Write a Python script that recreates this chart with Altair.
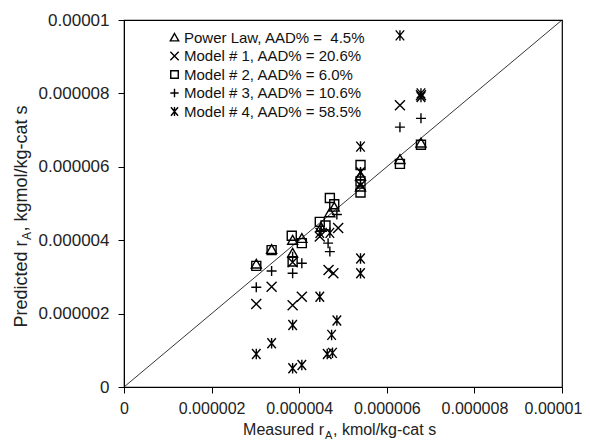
import altair as alt
import pandas as pd

# ---- data (values in kmol/kg-cat s) ----
series_names = [
    "Power Law, AAD% =\u00a0 4.5%",
    "Model # 1, AAD% = 20.6%",
    "Model # 2, AAD% = 6.0%",
    "Model # 3, AAD% = 10.6%",
    "Model # 4, AAD% = 58.5%",
]

pl_x = [3.02e-6, 3.37e-6, 3.85e-6, 3.85e-6, 4.06e-6, 4.50e-6, 4.70e-6, 4.80e-6, 5.40e-6, 5.40e-6, 6.30e-6, 6.78e-6]
pl_y = [3.35e-6, 3.75e-6, 4.00e-6, 3.65e-6, 4.05e-6, 4.35e-6, 4.75e-6, 4.90e-6, 5.45e-6, 5.75e-6, 6.20e-6, 6.65e-6]

m1_x = [3.02e-6, 3.37e-6, 3.85e-6, 3.85e-6, 4.06e-6, 4.47e-6, 4.67e-6, 4.78e-6, 4.89e-6, 5.40e-6, 6.30e-6, 6.78e-6]
m1_y = [2.26e-6, 2.73e-6, 3.40e-6, 2.23e-6, 2.46e-6, 4.10e-6, 3.19e-6, 3.10e-6, 4.33e-6, 5.50e-6, 7.68e-6, 7.95e-6]

m2_x = [3.02e-6, 3.37e-6, 3.83e-6, 4.06e-6, 3.85e-6, 4.47e-6, 4.60e-6, 4.70e-6, 4.80e-6, 5.40e-6, 5.40e-6, 5.40e-6, 6.30e-6, 6.78e-6]
m2_y = [3.30e-6, 3.73e-6, 4.12e-6, 3.92e-6, 3.42e-6, 4.50e-6, 4.40e-6, 5.15e-6, 4.98e-6, 6.05e-6, 5.60e-6, 5.30e-6, 6.08e-6, 6.60e-6]

m3_x = [3.02e-6, 3.37e-6, 3.85e-6, 3.85e-6, 4.06e-6, 4.50e-6, 4.66e-6, 4.70e-6, 4.86e-6, 5.40e-6, 6.30e-6, 6.78e-6]
m3_y = [2.72e-6, 3.16e-6, 3.10e-6, 3.55e-6, 3.37e-6, 4.25e-6, 3.92e-6, 3.69e-6, 4.70e-6, 5.65e-6, 7.08e-6, 7.32e-6]

m4_x = [3.02e-6, 3.37e-6, 3.85e-6, 3.85e-6, 4.06e-6, 4.47e-6, 4.47e-6, 4.70e-6, 4.64e-6, 4.76e-6, 4.74e-6, 4.86e-6, 5.40e-6, 5.40e-6, 5.40e-6, 5.40e-6, 6.30e-6, 6.78e-6, 6.78e-6]
m4_y = [0.90e-6, 1.19e-6, 1.69e-6, 0.51e-6, 0.60e-6, 2.46e-6, 4.20e-6, 4.20e-6, 0.90e-6, 0.93e-6, 1.42e-6, 1.81e-6, 3.50e-6, 3.10e-6, 6.55e-6, 5.85e-6, 9.58e-6, 7.90e-6, 8.00e-6]

diag_x = [0.0, 1e-5]
diag_y = [0.0, 1e-5]

tick_vals = [0, 2e-6, 4e-6, 6e-6, 8e-6, 1e-5]

# ---- build table ----
rows = []
for name, xs, ys in zip(series_names, [pl_x, m1_x, m2_x, m3_x, m4_x], [pl_y, m1_y, m2_y, m3_y, m4_y]):
    for a, b in zip(xs, ys):
        rows.append({"series": name, "x": a, "y": b})
df = pd.DataFrame(rows)
diag = pd.DataFrame({"x": diag_x, "y": diag_y})

tri = "M0,-0.95L1,0.8L-1,0.8Z"
cross_x = "M-1,-1L1,1M-1,1L1,-1"
square = "M-0.9,-0.9L0.9,-0.9L0.9,0.9L-0.9,0.9Z"
plus = "M-1,0L1,0M0,-1L0,1"
aster = "M-0.85,-1L0.85,1M-0.85,1L0.85,-1M0,-1.05L0,1.05"
shapes = [tri, cross_x, square, plus, aster]

FONT = "Liberation Sans"
xscale = alt.Scale(domain=[0, 1e-5], nice=False, zero=False)
yscale = alt.Scale(domain=[0, 1e-5], nice=False, zero=False)

line = alt.Chart(diag).mark_line(color="black", strokeWidth=0.8).encode(
    x=alt.X("x:Q", scale=xscale,
            axis=alt.Axis(values=tick_vals, format=".6~f", title=None,
                          labelOverlap=False, labelFlush=False,
                          labelFontSize=16, labelPadding=7,
                          labelOffset={"condition": {"test": "datum.value > 0.0000099", "value": -9},
                                       "value": 0})),
    y=alt.Y("y:Q", scale=yscale,
            axis=alt.Axis(values=tick_vals, format=".6~f", title=None,
                          labelOverlap=False, labelFlush=False,
                          labelFontSize=17, labelPadding=9)),
)

points = alt.Chart(df).mark_point(filled=False, color="black", strokeWidth=1.4,
                                  size=100, opacity=1).encode(
    x=alt.X("x:Q", scale=xscale),
    y=alt.Y("y:Q", scale=yscale),
    shape=alt.Shape("series:N",
                    scale=alt.Scale(domain=series_names, range=shapes),
                    sort=series_names,
                    legend=alt.Legend(orient="none", legendX=43, legendY=10, title=None,
                                      labelFont=FONT, labelFontSize=15, labelColor="#111",
                                      symbolSize=70, symbolStrokeWidth=1.4,
                                      symbolStrokeColor="black", symbolFillColor="transparent",
                                      labelOffset=2, rowPadding=2.5, labelLimit=400,
                                      padding=0)),
)

def txt(s, x, y, size=16, align="left", angle=0):
    return alt.Chart(pd.DataFrame({"t": [s]})).mark_text(
        font=FONT, fontSize=size, align=align, baseline="alphabetic", angle=angle,
        color="#222").encode(x=alt.value(x), y=alt.value(y), text="t:N")

titles = [
    txt("Measured r", 200, 415, align="right"),
    txt("A", 201, 419, size=11, align="left"),
    txt(", kmol/kg-cat s", 209, 415, align="left"),
    txt("Predicted r", -97, 220.5, size=18, align="right", angle=270),
    txt("A", -93, 216, size=12, align="center", angle=270),
    txt(", kgmol/kg-cat s", -97, 211.5, size=18, align="left", angle=270),
]

chart = alt.layer(line, points, *titles).properties(
    width=438, height=367,
    autosize=alt.AutoSizeParams(type="none"),
    padding={"left": 116, "top": 12, "right": 20, "bottom": 54},
).configure_view(stroke="black", strokeWidth=1.2).configure_axis(
    grid=False, domainColor="black", domainWidth=1, tickColor="black", tickSize=6,
    labelFont=FONT, labelColor="#222",
)

chart.save("out.html", embed_options={"renderer": "svg", "actions": False})
